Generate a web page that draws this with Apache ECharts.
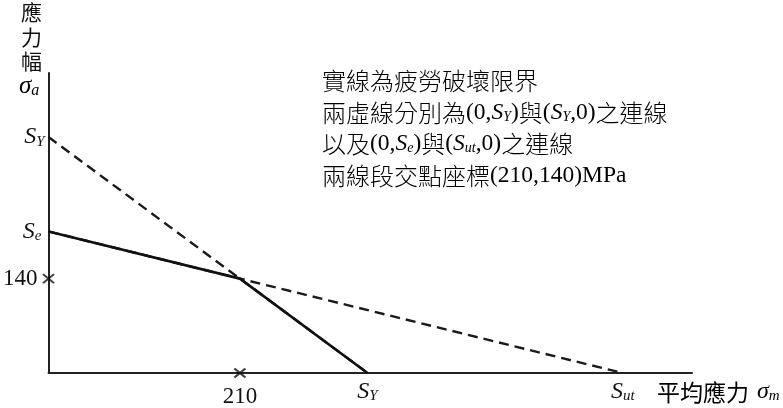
<!DOCTYPE html>
<html><head><meta charset="utf-8">
<script src="https://cdn.jsdelivr.net/npm/echarts@6/dist/echarts.min.js"></script>
<style>html,body{margin:0;padding:0;background:#fff}#c{width:783px;height:408px}</style>
</head><body><div id="c"></div>
<script>
// Data (MPa)
const fatigueLimit = [[0, 210], [210, 140], [350, 0]];      // solid line: fatigue failure limit
const yieldLine = [[0, 350], [350, 0]];                      // dashed (0,SY)-(SY,0)
const goodmanLine = [[0, 210], [630, 0]];                    // dashed (0,Se)-(Sut,0)
const crossMarks = [[0, 140], [210, 0]];
const xTickValues = [210, 350, 630];
const xTickLabels = ['{n|210}', '{i|S}{s|Y}', '{i|S}{s|ut}'];
const yTickValues = [140, 210, 350];
const yTickLabels = ['{n|140}', '{i|S}{s|e}', '{i|S}{s|Y}'];

const SERIF = 'Liberation Serif, Times New Roman, serif';
const CJK = 'Noto Sans CJK TC, sans-serif';
const INK = '#111';

const chart = echarts.init(document.getElementById('c'));
chart.setOption({
  animation: false,
  grid: {left: 47, top: 73, right: 91, bottom: 33},
  xAxis: {
    type: 'value', min: 0, max: 706,
    splitLine: {show: false},
    axisLine: {lineStyle: {color: '#222', width: 2}},
    axisTick: {show: false},
    axisLabel: {
      customValues: xTickValues, margin: 6,
      formatter: v => xTickLabels[xTickValues.indexOf(v)],
      rich: {
        n: {fontFamily: SERIF, fontSize: 23, color: INK, padding: [6, 0, 0, 0]},
        i: {fontFamily: SERIF, fontSize: 24, fontStyle: 'italic', color: INK},
        s: {fontFamily: SERIF, fontSize: 15, fontStyle: 'italic', color: INK, padding: [10, 0, 0, 0]}
      }
    }
  },
  yAxis: {
    type: 'value', min: 0, max: 445,
    splitLine: {show: false},
    axisLine: {lineStyle: {color: '#222', width: 2}},
    axisTick: {show: false},
    axisLabel: {
      customValues: yTickValues, margin: 4,
      formatter: v => yTickLabels[yTickValues.indexOf(v)] + (v === 210 ? '{p|}' : ''),
      rich: {
        n: {fontFamily: SERIF, fontSize: 23, color: INK, padding: [0, 7, 0, 0]},
        i: {fontFamily: SERIF, fontSize: 24, fontStyle: 'italic', color: INK},
        s: {fontFamily: SERIF, fontSize: 15, fontStyle: 'italic', color: INK, padding: [10, 0, 0, 0]},
        p: {width: 3}
      }
    }
  },
  series: [
    {type: 'line', data: yieldLine, symbol: 'none', lineStyle: {color: '#1a1a1a', width: 2.4, type: [10, 6]}},
    {type: 'line', data: goodmanLine, symbol: 'none', lineStyle: {color: '#1a1a1a', width: 2.4, type: [10, 6]}},
    {type: 'line', data: fatigueLimit, symbol: 'none', lineStyle: {color: INK, width: 2.6}},
    {type: 'scatter', data: crossMarks, clip: false, symbol: 'path://M0,0L10,10M10,0L0,10', symbolSize: [11, 9],
     itemStyle: {color: 'none', borderColor: INK, borderWidth: 2}}
  ],
  graphic: [
    {type: 'text', left: 21, top: 0, style: {text: '應\n力\n幅', font: '21px "Noto Sans CJK TC"', lineHeight: 24.5, fill: INK}},
    {type: 'text', left: 19, top: 74, style: {text: '{i|σ}{s|a}', rich: {
      i: {fontFamily: SERIF, fontSize: 25, fontStyle: 'italic', color: INK},
      s: {fontFamily: SERIF, fontSize: 16, fontStyle: 'italic', color: INK, padding: [9, 0, 0, 0]}
    }}},
    {type: 'text', left: 657, top: 380, style: {text: '{c|平均應力}{i|σ}{s|m}', rich: {
      c: {fontFamily: CJK, fontSize: 23, color: INK, padding: [0, 8, 0, 0]},
      i: {fontFamily: SERIF, fontSize: 24, fontStyle: 'italic', color: INK},
      s: {fontFamily: SERIF, fontSize: 15, fontStyle: 'italic', color: INK, padding: [9, 0, 0, 0]}
    }}},
    {type: 'text', left: 322, top: 69, style: {
      text: '{c|實線為疲勞破壞限界}\n' +
            '{c|兩虛線分別為}{n|(0,}{i|S}{s|Y}{n|)}{c|與}{n|(}{i|S}{s|Y}{n|,0)}{c|之連線}\n' +
            '{c|以及}{n|(0,}{i|S}{s|e}{n|)}{c|與}{n|(}{i|S}{s|ut}{n|,0)}{c|之連線}\n' +
            '{c|兩線段交點座標}{n|(210,140)MPa}',
      rich: {
        c: {fontFamily: CJK, fontSize: 24, fontWeight: 300, color: INK, lineHeight: 31.5},
        n: {fontFamily: SERIF, fontSize: 23.5, color: INK, lineHeight: 31.5},
        i: {fontFamily: SERIF, fontSize: 23.5, fontStyle: 'italic', color: INK, lineHeight: 31.5},
        s: {fontFamily: SERIF, fontSize: 14, fontStyle: 'italic', color: INK, lineHeight: 31.5, padding: [9, 0, 0, 0]}
      }
    }}
  ]
});
</script></body></html>
